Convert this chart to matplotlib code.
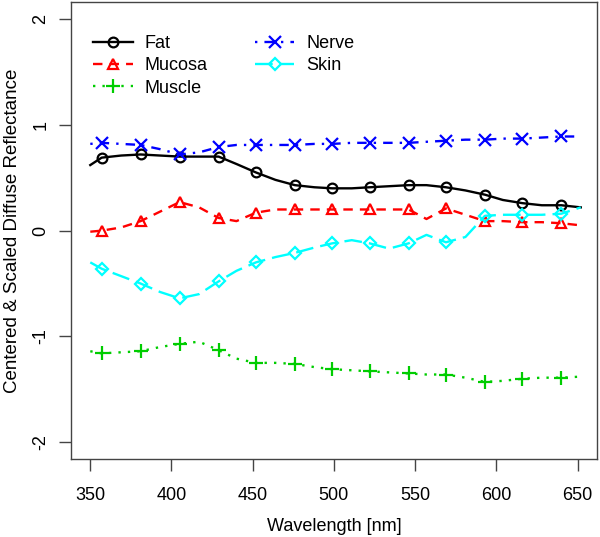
import matplotlib
matplotlib.use("Agg")
import matplotlib.pyplot as plt

plt.rcParams['font.family'] = ['Liberation Sans', 'DejaVu Sans']
plt.rcParams['axes.unicode_minus'] = False

wavelength = [350, 357, 369, 381, 393, 405, 417, 429, 440, 452, 464, 476, 488, 499,
              511, 522, 534, 546, 557, 569, 581, 593, 604, 616, 628, 640, 652]

fat = [0.62, 0.69, 0.71, 0.72, 0.71, 0.70, 0.70, 0.70, 0.63, 0.55, 0.48, 0.43, 0.41, 0.40,
       0.40, 0.41, 0.42, 0.43, 0.43, 0.41, 0.38, 0.34, 0.29, 0.26, 0.24, 0.24, 0.22]
mucosa = [-0.01, 0.00, 0.03, 0.09, 0.18, 0.27, 0.22, 0.12, 0.09, 0.17, 0.20, 0.20, 0.20, 0.20,
          0.20, 0.20, 0.20, 0.20, 0.11, 0.21, 0.15, 0.09, 0.09, 0.08, 0.08, 0.07, 0.05]
muscle = [-1.14, -1.16, -1.15, -1.14, -1.10, -1.07, -1.05, -1.13, -1.21, -1.25, -1.25, -1.26, -1.29, -1.31,
          -1.32, -1.33, -1.34, -1.35, -1.36, -1.36, -1.39, -1.43, -1.42, -1.40, -1.39, -1.39, -1.38]
nerve = [0.82, 0.83, 0.82, 0.81, 0.77, 0.72, 0.74, 0.79, 0.81, 0.81, 0.81, 0.81, 0.82, 0.82,
         0.83, 0.83, 0.83, 0.83, 0.84, 0.85, 0.86, 0.86, 0.87, 0.87, 0.88, 0.89, 0.89]
skin = [-0.30, -0.36, -0.43, -0.50, -0.58, -0.64, -0.60, -0.48, -0.38, -0.30, -0.25, -0.21, -0.16, -0.12,
        -0.09, -0.12, -0.17, -0.12, -0.04, -0.11, -0.06, 0.14, 0.15, 0.15, 0.15, 0.16, 0.22]

names = ["Fat", "Mucosa", "Muscle", "Nerve", "Skin"]
series = [fat, mucosa, muscle, nerve, skin]
colors = ["black", "#FF0000", "#00CD00", "#0000FF", "#00FFFF"]
markers = ["o", "^", "+", "x", "D"]
msizes = [7, 7.5, 10, 8, 6]
dashes = [None, (4, 3), (1, 3), (1, 3, 4, 3), (7.5, 3)]
xticks = [350, 400, 450, 500, 550, 600, 650]
yticks = [-2, -1, 0, 1, 2]

fig = plt.figure(figsize=(6.0, 5.37), dpi=100)
ax = fig.add_axes([0.118, 0.145, 0.877, 0.851])

for i in range(len(series)):
    kw = {}
    if dashes[i] is not None:
        kw['dashes'] = dashes[i]
    ax.plot(wavelength, series[i], color=colors[i], linewidth=1.7,
            marker=markers[i], markersize=msizes[i], markevery=slice(1, None, 2),
            markerfacecolor='none', markeredgecolor=colors[i], markeredgewidth=1.6,
            label=names[i], **kw)

ax.set_xlim(338, 662)
ax.set_ylim(-2.16, 2.16)
ax.set_xticks(xticks)
ax.set_yticks(yticks, [str(v) for v in yticks], rotation=90, va='center',
              ha='right', rotation_mode='default')
ax.tick_params(direction='out', length=8.5, width=1, labelsize=13, color='#444444')
ax.tick_params(axis='x', pad=11.5)
ax.tick_params(axis='y', pad=7)
for s in ax.spines.values():
    s.set_linewidth(1.0)
    s.set_color('#444444')

ax.set_xlabel("Wavelength [nm]", fontsize=13, labelpad=10)
ax.set_ylabel("Centered & Scaled Diffuse Reflectance", fontsize=13.5, labelpad=8)

ax.legend(loc='upper left', ncol=2, frameon=False, fontsize=13, handlelength=2.2,
          numpoints=1, columnspacing=2.6, labelspacing=0.3, handletextpad=0.65,
          bbox_to_anchor=(0.012, 0.964))

fig.savefig("out.png", dpi=100)
